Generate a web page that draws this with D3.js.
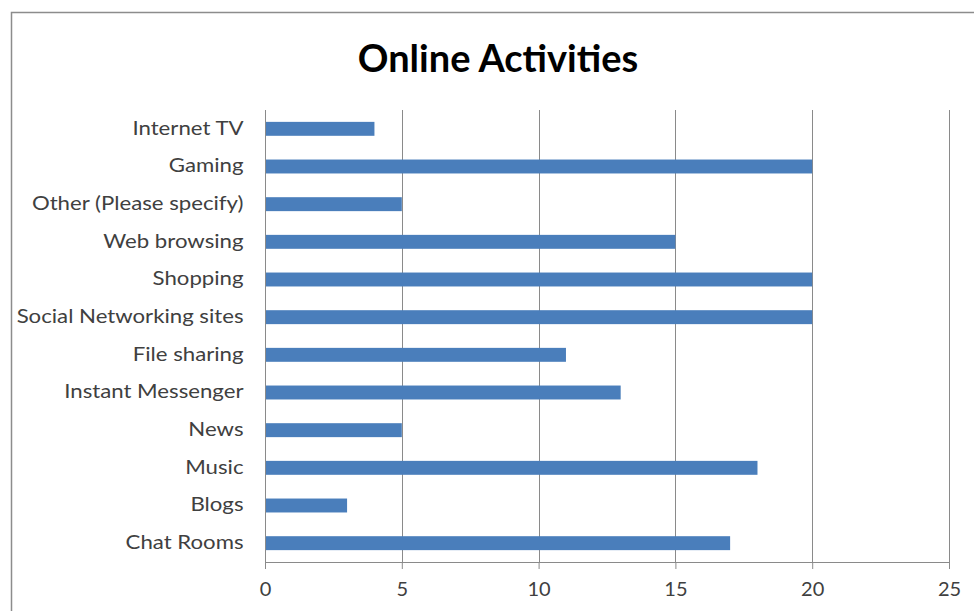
<!DOCTYPE html>
<html>
<head>
<meta charset="utf-8">
<script src="https://cdn.jsdelivr.net/npm/d3@7"></script>
<style>
  html, body { margin: 0; padding: 0; background: #fff; }
  svg { display: block; }
  text { font-family: Lato, "Open Sans", sans-serif; }
</style>
</head>
<body>
<svg id="chart" width="974" height="611"></svg>
<script>
// Activity categories, top to bottom
const categories = [
  "Internet TV", "Gaming", "Other (Please specify)", "Web browsing",
  "Shopping", "Social Networking sites", "File sharing", "Instant Messenger",
  "News", "Music", "Blogs", "Chat Rooms"
];
// Number of respondents per activity
const values = [4, 20, 5, 15, 20, 20, 11, 13, 5, 18, 3, 17];
// X axis ticks
const xTicks = [0, 5, 10, 15, 20, 25];
const title = "Online Activities";

const svg = d3.select("#chart");
const W = 974, H = 611;
const margin = { left: 265, right: 25, top: 110, bottom: 49 };

// Outer chart frame
svg.append("rect")
  .attr("x", 11.5).attr("y", 12.5)
  .attr("width", W + 20).attr("height", H + 20)
  .attr("fill", "#fff").attr("stroke", "#8c8c8c").attr("stroke-width", 1.5);

const x = d3.scaleLinear().domain([0, 25]).range([margin.left, W - margin.right]);
const y = d3.scaleBand().domain(categories)
  .range([margin.top, H - margin.bottom]).paddingInner(0.63).paddingOuter(0.315);
const bottomY = H - margin.bottom;

// Vertical gridlines
svg.append("g").selectAll("line").data(xTicks.slice(1)).join("line")
  .attr("x1", d => Math.round(x(d)) + 0.5).attr("x2", d => Math.round(x(d)) + 0.5)
  .attr("y1", margin.top).attr("y2", bottomY)
  .attr("stroke", "#8a8a8a").attr("stroke-width", 1);

// Bars
svg.append("g").selectAll("rect").data(values).join("rect")
  .attr("x", x(0) + 1)
  .attr("y", (d, i) => y(categories[i]))
  .attr("width", d => x(d) - x(0) - 1)
  .attr("height", y.bandwidth())
  .attr("fill", "#4a7ebb");

// X axis
const xAxis = svg.append("g")
  .attr("transform", `translate(0,${bottomY})`)
  .call(d3.axisBottom(x).tickValues(xTicks).tickSize(7).tickPadding(13).tickFormat(d3.format("d")));
xAxis.select(".domain").attr("stroke", "#8a8a8a").attr("d", `M${x(0)},0.5H${x(25)}`);
xAxis.selectAll(".tick line").attr("stroke", "#8a8a8a");
xAxis.selectAll(".tick text")
  .attr("fill", "#404040").style("font-size", "20px").style("font-family", "Lato, sans-serif");

// Y axis; labels are set in a slightly widened face
const labelStretch = 1.2, labelPad = 22;
const yAxis = svg.append("g")
  .attr("transform", `translate(${Math.round(x(0)) + 0.5},0)`)
  .call(d3.axisLeft(y).tickSize(0).tickPadding(labelPad));
yAxis.select(".domain").attr("stroke", "#8a8a8a").attr("d", `M0,${margin.top}V${bottomY + 7}`);
yAxis.selectAll(".tick text")
  .attr("x", -labelPad / labelStretch)
  .attr("transform", `scale(${labelStretch},1)`)
  .attr("fill", "#404040").style("font-family", "Lato, sans-serif").style("font-size", "18.5px");

// Title
svg.append("text")
  .attr("x", 498).attr("y", 72)
  .attr("text-anchor", "middle")
  .attr("fill", "#000").style("font-weight", "bold").style("font-size", "38px")
  .text(title);
</script>
</body>
</html>
